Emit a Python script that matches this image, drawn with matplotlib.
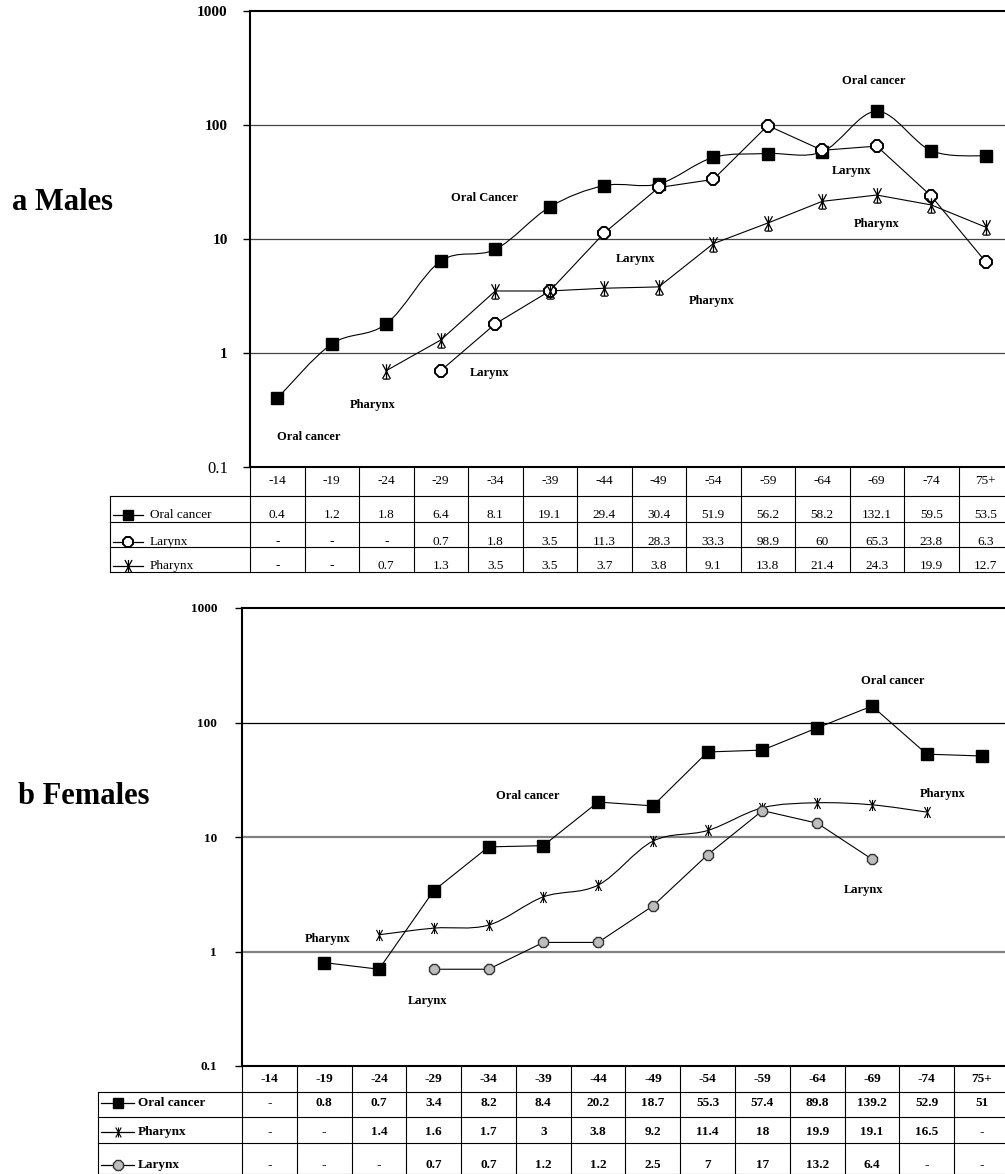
import numpy as np
import matplotlib
matplotlib.use("Agg")
import matplotlib.pyplot as plt
from matplotlib.path import Path
from matplotlib.patches import PathPatch
from matplotlib.ticker import NullLocator

plt.rcParams['font.family'] = ['Liberation Serif', 'DejaVu Serif']

ages = ['-14', '-19', '-24', '-29', '-34', '-39', '-44', '-49', '-54', '-59',
        '-64', '-69', '-74', '75+']
nan = np.nan

# a Males
m_oral = [0.4, 1.2, 1.8, 6.4, 8.1, 19.1, 29.4, 30.4, 51.9, 56.2, 58.2, 132.1, 59.5, 53.5]
m_larynx = [nan, nan, nan, 0.7, 1.8, 3.5, 11.3, 28.3, 33.3, 98.9, 60, 65.3, 23.8, 6.3]
m_pharynx = [nan, nan, 0.7, 1.3, 3.5, 3.5, 3.7, 3.8, 9.1, 13.8, 21.4, 24.3, 19.9, 12.7]

# b Females
f_oral = [nan, 0.8, 0.7, 3.4, 8.2, 8.4, 20.2, 18.7, 55.3, 57.4, 89.8, 139.2, 52.9, 51]
f_pharynx = [nan, nan, 1.4, 1.6, 1.7, 3, 3.8, 9.2, 11.4, 18, 19.9, 19.1, 16.5, nan]
f_larynx = [nan, nan, nan, 0.7, 0.7, 1.2, 1.2, 2.5, 7, 17, 13.2, 6.4, nan, nan]

# labels on the plots: (text, column position, value position)
m_notes = [('Oral cancer', 10.95, 243), ('Oral Cancer', 3.81, 22.9),
           ('Larynx', 10.53, 39.5), ('Pharynx', 11.0, 13.5),
           ('Larynx', 6.58, 6.68), ('Pharynx', 7.98, 2.86),
           ('Larynx', 3.89, 0.668), ('Pharynx', 1.76, 0.35),
           ('Oral cancer', 0.58, 0.183)]
f_notes = [('Oral cancer', 11.38, 230), ('Oral cancer', 4.72, 22.8),
           ('Pharynx', 12.29, 23.8), ('Larynx', 10.85, 3.44),
           ('Pharynx', 1.07, 1.29), ('Larynx', 2.89, 0.37)]

W, H = 1005, 1174
fig = plt.figure(figsize=(W / 100, H / 100), dpi=100)


def box(x0, y0, x1, y1):
    return [x0 / W, 1 - y1 / H, (x1 - x0) / W, (y1 - y0) / H]


def star_marker(bar):
    verts = [(0, -1), (0, 1), (-0.55, 1), (0.55, -1), (0.55, 1), (-0.55, -1)]
    codes = [Path.MOVETO, Path.LINETO] * 3
    if bar:
        verts += [(-0.45, -1.05), (0.45, -1.05)]
        codes += [Path.MOVETO, Path.LINETO]
    return Path(verts, codes)


STYLES = {
    'oral': dict(marker='s', ms=8.5, mfc='black', mec='black'),
    'larynx_m': dict(marker='8', ms=9, mfc='white', mec='black', mew=1.4),
    'larynx_f': dict(marker='8', ms=8.5, mfc='#bdbdbd', mec='#333333', mew=1.0),
    'pharynx_m': dict(marker=star_marker(True), ms=11, mfc='none', mec='black', mew=0.9),
    'pharynx_f': dict(marker=star_marker(False), ms=8, mfc='none', mec='black', mew=0.8),
}


def smooth_line(ax, xs, ys):
    # Bezier smoothing in (column, log value) space, as a spreadsheet does
    ly = np.log10(ys)
    P = np.column_stack([xs, ly])
    n = len(P)
    verts = [(P[0, 0], ys[0])]
    codes = [Path.MOVETO]
    for i in range(n - 1):
        p0 = P[i - 1] if i > 0 else P[i]
        p3 = P[i + 2] if i + 2 < n else P[i + 1]
        c1 = P[i] + (P[i + 1] - p0) / 6
        c2 = P[i + 1] - (p3 - P[i]) / 6
        for c in (c1, c2, P[i + 1]):
            verts.append((c[0], 10 ** c[1]))
        codes += [Path.CURVE4] * 3
    ax.add_patch(PathPatch(Path(verts, codes), fill=False, lw=0.8, ec='black'))


def draw_series(ax, values, style, smooth=False):
    v = np.array(values, dtype=float)
    idx = np.where(~np.isnan(v))[0]
    xs, ys = idx.astype(float), v[idx]
    if smooth:
        smooth_line(ax, xs, ys)
    else:
        ax.plot(xs, ys, color='black', lw=0.8)
    ax.plot(xs, ys, ls='none', zorder=3, **STYLES[style])


def fmt(v):
    return '-' if np.isnan(v) else f'{v:g}'


def setup_plot(ax, bold_ticks, grid_styles, tick_size, tick_pad):
    ax.set_yscale('log')
    ax.set_ylim(0.1, 1000)
    ax.set_xlim(-0.5, 13.5)
    ax.yaxis.set_minor_locator(NullLocator())
    ax.set_yticks([0.1, 1, 10, 100, 1000])
    ax.set_yticklabels(['0.1', '1', '10', '100', '1000'])
    ax.set_xticks([])
    ax.tick_params(axis='y', direction='out', length=5, width=1, pad=tick_pad)
    for lab, b in zip(ax.get_yticklabels(), bold_ticks):
        lab.set_fontweight('bold' if b else 'normal')
        lab.set_fontsize(tick_size if b else tick_size + 1)
    for val, (c, lw) in zip([1, 10, 100], grid_styles):
        ax.axhline(val, color=c, lw=lw, zorder=1)
    for s in ['left', 'top', 'bottom']:
        ax.spines[s].set_linewidth(1.5)
    ax.spines['right'].set_visible(False)


def draw_table(ax, label_w, rows, row_edges, text_y, weight, icon, size):
    # rows: list of (name, style, values); row_edges in local pixels from top
    x_left = -0.5 - label_w
    ax.set_xlim(x_left, 13.5)
    ax.set_ylim(row_edges[-1], 0)
    ax.axis('off')
    for k in range(15):
        ax.plot([k - 0.5, k - 0.5], [0, row_edges[-1]], color='black', lw=0.8,
                clip_on=False)
    ax.plot([x_left, x_left], [row_edges[1], row_edges[-1]], color='black', lw=0.8,
            clip_on=False)
    for e in row_edges[1:]:
        ax.plot([x_left, 13.5], [e, e], color='black', lw=0.8, clip_on=False)
    for i, a in enumerate(ages):
        ax.text(i, text_y[0], a, ha='center', va='center', fontsize=size, fontweight=weight)
    ix0, ix1, itx = icon
    for r, (name, style, values) in enumerate(rows):
        y = text_y[r + 1]
        ax.plot([x_left + ix0, x_left + ix1], [y, y], color='black', lw=0.9)
        st = dict(STYLES[style])
        st['ms'] = st['ms'] * 0.9
        ax.plot([x_left + (ix0 + ix1) / 2], [y], ls='none', **st)
        ax.text(x_left + itx, y, name, ha='left', va='center', fontsize=size,
                fontweight=weight)
        for i, v in enumerate(values):
            ax.text(i, y, fmt(float(v)), ha='center', va='center', fontsize=size,
                    fontweight=weight)


def notes(ax, items):
    for txt, x, y in items:
        ax.text(x, y, txt, ha='center', va='center', fontsize=9, fontweight='bold')


# ---- a Males ----
ax1 = fig.add_axes(box(250, 11, 1013, 467))
setup_plot(ax1, [False, True, True, True, True],
           [('#444444', 0.9), ('#444444', 0.9), ('#444444', 0.9)], 11, 11)
draw_series(ax1, m_oral, 'oral', smooth=True)
draw_series(ax1, m_larynx, 'larynx_m')
draw_series(ax1, m_pharynx, 'pharynx_m')
notes(ax1, m_notes)

cw1 = (1013 - 250) / 14
t1 = fig.add_axes(box(110, 467, 1013, 572))
draw_table(t1, 140 / cw1,
           [('Oral cancer', 'oral', m_oral), ('Larynx', 'larynx_m', m_larynx),
            ('Pharynx', 'pharynx_m', m_pharynx)],
           [0, 29, 55, 80, 105], [14.5, 48, 75, 99], 'normal',
           (3 / cw1, 33 / cw1, 40 / cw1), 9.5)

fig.text(12 / W, 1 - 203 / H, 'a Males', ha='left', va='center', fontsize=22,
         fontweight='bold')

# ---- b Females ----
ax2 = fig.add_axes(box(242, 608, 1009, 1066))
setup_plot(ax2, [True, True, True, True, True],
           [('#808080', 1.6), ('#808080', 1.6), ('black', 0.9)], 9.5, 13)
draw_series(ax2, f_oral, 'oral')
draw_series(ax2, f_pharynx, 'pharynx_f', smooth=True)
draw_series(ax2, f_larynx, 'larynx_f')
notes(ax2, f_notes)

cw2 = (1009 - 242) / 14
t2 = fig.add_axes(box(98, 1066, 1009, 1174))
draw_table(t2, 144 / cw2,
           [('Oral cancer', 'oral', f_oral), ('Pharynx', 'pharynx_f', f_pharynx),
            ('Larynx', 'larynx_f', f_larynx)],
           [0, 26, 51, 77, 108], [13, 37, 66, 99], 'bold',
           (3 / cw2, 36 / cw2, 40 / cw2), 9.5)

fig.text(18 / W, 1 - 796 / H, 'b Females', ha='left', va='center', fontsize=22,
         fontweight='bold')

fig.savefig('out.png', dpi=100)
